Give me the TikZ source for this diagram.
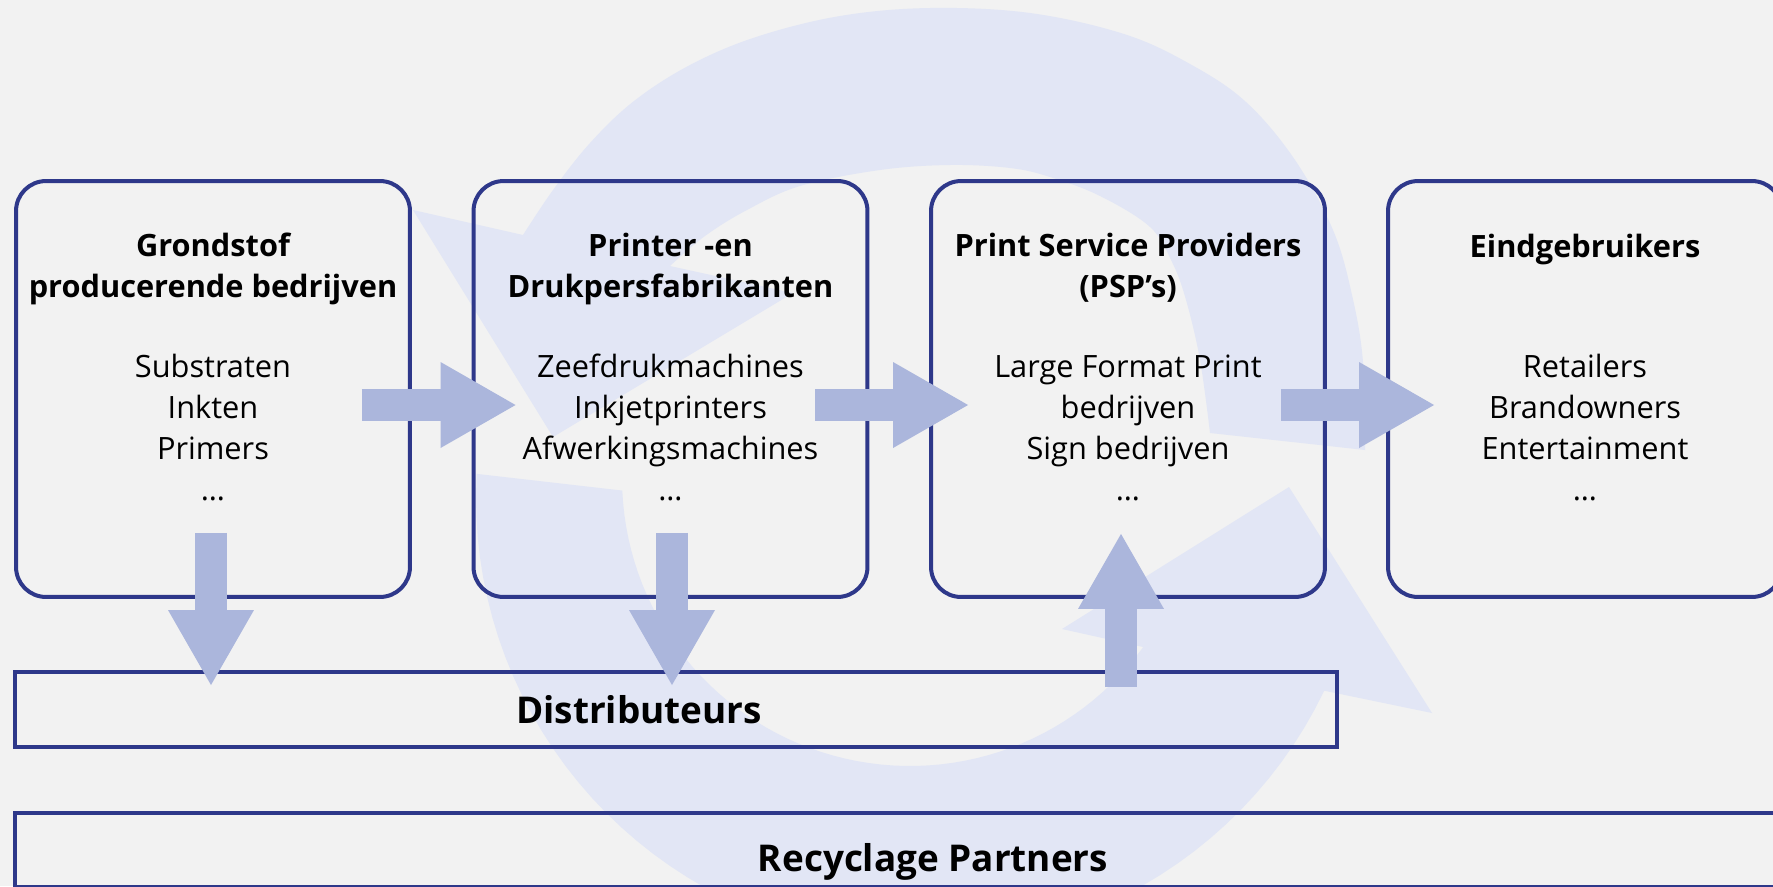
\documentclass[tikz,border=0pt]{standalone}
\usepackage{fontspec}
\setsansfont{Open Sans}
\usetikzlibrary{arrows.meta, calc}
\definecolor{cnavy}{HTML}{2E388A}
\definecolor{carrow}{HTML}{ABB6DC}
\definecolor{cring}{HTML}{E2E6F5}
\definecolor{cback}{HTML}{F2F2F2}
\tikzset{
  every picture/.style={font=\sffamily},
  stage/.style={draw=cnavy, line width=0.08cm, rounded corners=0.6cm, minimum width=7.88cm, minimum height=8.32cm, inner sep=0pt},
  band/.style={draw=cnavy, line width=0.08cm, inner sep=0pt},
  head/.style={font=\sffamily\bfseries\fontsize{17.5}{23}\selectfont, align=center, inner sep=0pt, anchor=base},
  items/.style={font=\sffamily\fontsize{17.5}{23.2}\selectfont, align=center, inner sep=0pt, anchor=base},
  bandtext/.style={font=\sffamily\bfseries\fontsize{21}{26}\selectfont, inner sep=0pt, anchor=base},
  flow/.style={-{Triangle[length=1.5cm, width=1.72cm, line width=0pt]}, draw=carrow, line width=0.64cm},
}

\begin{document}
\begin{tikzpicture}[x=0.02cm, y=-0.02cm]
  \useasboundingbox (0,0) rectangle (1773,886);
  \clip (0,0) rectangle (1773,886);
  \fill[cback] (0,0) rectangle (1773,886);
  % faint cycle in the background: upper arrow
  \fill[cring] (1210,433) -- plot[smooth, tension=0.6] coordinates {(1365,450) (1363,362) (1352,295) (1333,230) (1295,160) (1246,102) (1190,64) (1124,34) (1030,13) (930,8) (840,16) (756,37) (690,65) (634,101) (590,143) (553,190) (523,235)}
    -- (413,210) -- (553,437) -- (793,293) -- (670,266)
    -- plot[smooth, tension=0.6] coordinates {(670,266) (705,236) (747,210) (800,186) (880,170) (950,165) (1010,168) (1050,177) (1100,196) (1150,227) (1172,262) (1186,300) (1200,360) (1210,433)} -- cycle;
  % lower arrow
  \fill[cring] (478,474) -- plot[domain=183.1:25.6, samples=60, variable=\t] ({922+446*cos(\t)}, {498+446*sin(\t)})
    -- (1432,713) -- (1289,487) -- (1062,629) -- (1143,647)
    -- plot[domain=36:177.5, samples=60, variable=\t] ({910+288*cos(\t)}, {478+288*sin(\t)}) -- cycle;

  % stages
  \node[stage] (b1) at (213,389) {};
  \node[stage] (b2) at (670.5,389) {};
  \node[stage] (b3) at (1128,389) {};
  \node[stage] (b4) at (1585,389) {};
  \node[band, minimum width=26.44cm, minimum height=1.5cm] (dist) at (676,709.5) {};
  \node[band, minimum width=36.68cm, minimum height=1.48cm] (recy) at (932,850) {};

  % flows between the stages
  \draw[flow] ($(b1.east)+(-50,16)$) -- ($(b2.west)+(44,16)$);
  \draw[flow] ($(b2.east)+(-54,16)$) -- ($(b3.west)+(39,16)$);
  \draw[flow] ($(b3.east)+(-46,16)$) -- ($(b4.west)+(48,16)$);
  \draw[flow] ($(b1.south)+(-2,-66)$) -- ($(b1.south |- dist.north)+(-2,15)$);
  \draw[flow] ($(b2.south)+(1.5,-66)$) -- ($(b2.south |- dist.north)+(1.5,15)$);
  \draw[flow] ($(b3.south |- dist.north)+(-7,17)$) -- ($(b3.south)+(-7,-65)$);

  % texts (base = baseline of the last line)
  \node[head] (h1) at (213,297) {Grondstof\\producerende bedrijven};
  \node[head] (h2) at (670.5,297) {Printer -en\\Drukpersfabrikanten};
  \node[head] (h3) at (1128,297) {Print Service Providers\\(PSP’s)};
  \node[head] (h4) at (1585,257) {Eindgebruikers};
  \node[items] (l1) at (213,500) {Substraten\\Inkten\\Primers\\…};
  \node[items] (l2) at (670.5,500) {Zeefdrukmachines\\Inkjetprinters\\Afwerkingsmachines\\…};
  \node[items] (l3) at (1128,500) {Large Format Print\\bedrijven\\Sign bedrijven\\…};
  \node[items] (l4) at (1585,500) {Retailers\\Brandowners\\Entertainment\\…};
  \node[bandtext] (t-dist) at (639,723) {Distributeurs};
  \node[bandtext] (t-recy) at (933,871) {Recyclage Partners};
\end{tikzpicture}
\end{document}
